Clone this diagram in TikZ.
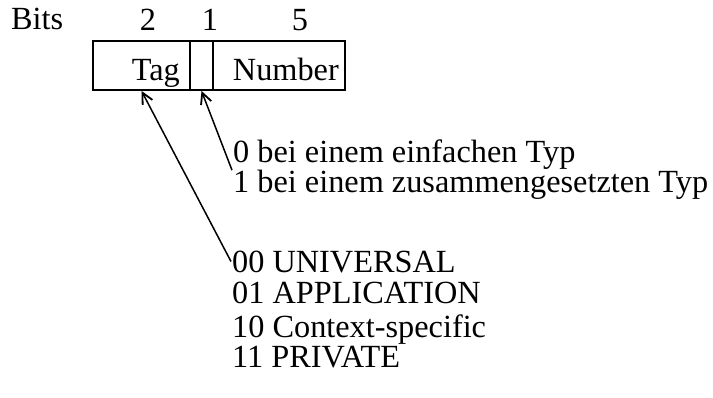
\documentclass[tikz,border=0pt]{standalone}
\usepackage{fontspec}
\setmainfont{Liberation Serif}
\usetikzlibrary{arrows.meta, positioning}

\begin{document}
\begin{tikzpicture}[
    x=1pt, y=-1pt,
    every node/.style={font=\fontsize{32.3}{28}\selectfont},
    cell/.style={rectangle, draw=black, line width=1.8pt, minimum height=49pt, inner sep=0pt},
    txt/.style={anchor=base west, inner sep=1pt},
    arrow/.style={-{Straight Barb[length=11pt, width=11pt, line width=1.8pt]}, line width=1.5pt}
]
\useasboundingbox (0,0) rectangle (713,397);

% Header
\node[txt] (bits) at (10,29) {Bits};
\node[anchor=base] (w-tag) at (148,30) {2};
\node[anchor=base] (w-flag) at (210,30) {1};
\node[anchor=base] (w-number) at (300,30) {5};

% Identifier octet
\node[cell, minimum width=97pt] (tag) at (141.5,65.5) {};
\node[cell, minimum width=23pt] (flag) at (201.5,65.5) {};
\node[cell, minimum width=132pt] (number) at (279,65.5) {};
\node[anchor=base east, inner sep=0pt] (tag-lbl) at (180,80) {Tag};
\node[anchor=base east, inner sep=0pt] (number-lbl) at (339,80) {Number};

% Constructed bit
\node[txt] (simple) at (232,162) {0 bei einem einfachen Typ};
\node[txt] (constr) at (232,192) {1 bei einem zusammengesetzten Typ};

% Tag classes
\node[txt] (universal) at (231,272) {00 UNIVERSAL};
\node[txt] (application) at (231,303) {01 APPLICATION};
\node[txt] (context) at (231,337) {10 Context-specific};
\node[txt] (private) at (231,367) {11 PRIVATE};

% Arrows
\draw[arrow] (simple.south west) -- (flag.south);
\draw[arrow] (universal.west) -- (tag.south);

\end{tikzpicture}
\end{document}
